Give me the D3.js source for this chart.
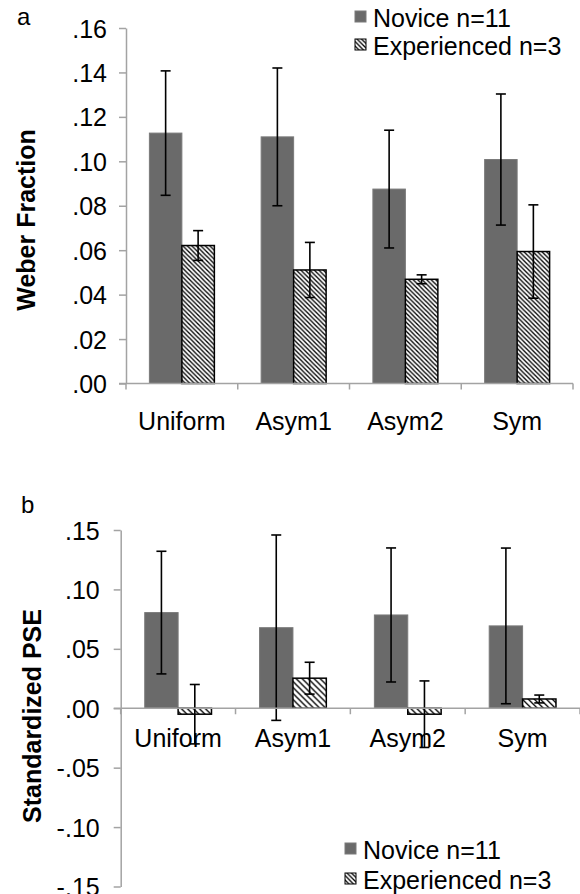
<!DOCTYPE html>
<html>
<head>
<meta charset="utf-8">
<script src="https://cdn.jsdelivr.net/npm/d3@7"></script>
<style>
  body { margin: 0; background: #fff; }
  svg { display: block; font-family: "Liberation Sans", Arial, Helvetica, sans-serif; }
</style>
</head>
<body>
<svg id="chart" width="580" height="894"></svg>
<script>
const categories = ["Uniform", "Asym1", "Asym2", "Sym"];
const series = ["Novice n=11", "Experienced n=3"];

// panel a: Weber fraction (mean, +/- error)
const weberNovice = [0.1127, 0.111, 0.0875, 0.1008];
const weberNoviceErr = [0.028, 0.031, 0.0265, 0.0295];
const weberExp = [0.0621, 0.0511, 0.0469, 0.0594];
const weberExpErr = [0.0067, 0.0124, 0.002, 0.021];
const weberTicks = [0, 0.02, 0.04, 0.06, 0.08, 0.10, 0.12, 0.14, 0.16];

// panel b: standardized PSE
const pseNovice = [0.0805, 0.0678, 0.0785, 0.0693];
const pseNoviceErr = [0.0516, 0.078, 0.0564, 0.0655];
const pseExp = [-0.005, 0.0253, -0.005, 0.0078];
const pseExpErr = [0.025, 0.0134, 0.028, 0.0033];
const pseTicks = [-0.15, -0.10, -0.05, 0, 0.05, 0.10, 0.15];

const svg = d3.select("#chart");
const axisColor = "#a3a3a3";
const noviceFill = "#6a6a6a";
const fontSize = 25;

const fmt = v => {
    const s = d3.format(".2f")(Math.abs(v)).replace(/^0/, "");
    return (v < 0 ? "-" : "") + s;
};

const defs = svg.append("defs");
function hatch(id, size) {
    const p = defs.append("pattern")
        .attr("id", id)
        .attr("patternUnits", "userSpaceOnUse")
        .attr("width", size).attr("height", size);
    p.append("rect").attr("width", size).attr("height", size).attr("fill", "#fff");
    p.append("path")
        .attr("d", `M0,0L${size},${size}M${-size/2},${size/2}L${size/2},${size*1.5}M${size/2},${-size/2}L${size*1.5},${size/2}`)
        .attr("stroke", "#000")
        .attr("stroke-width", 1.3);
}
hatch("hatchA", 4.5);
hatch("hatchB", 6);

function panel(opt) {
    const g = svg.append("g");

    const x0 = d3.scaleBand().domain(categories).range([opt.left, opt.right]).padding(0);
    const x1 = d3.scaleBand().domain(series).range([0, x0.bandwidth()])
        .paddingInner(0).paddingOuter(0.72);
    const y = d3.scaleLinear().domain(opt.domain).range([opt.bottom, opt.top]);

    // y axis
    g.append("g")
        .attr("transform", `translate(${opt.left},0)`)
        .call(d3.axisLeft(y).tickValues(opt.ticks).tickFormat(fmt)
            .tickSizeInner(7).tickSizeOuter(0).tickPadding(opt.labelPad))
        .call(a => a.selectAll(".domain, line").attr("stroke", axisColor).attr("stroke-width", 1.5))
        .call(a => a.selectAll("text").attr("font-size", fontSize).attr("fill", "#000")
            .attr("font-family", null).attr("dy", "0.36em"));

    const rows = categories.map((c, i) => ({
        cat: c,
        vals: [
            {s: series[0], v: opt.novice[i], e: opt.noviceErr[i]},
            {s: series[1], v: opt.exp[i], e: opt.expErr[i]}
        ]
    }));

    const grp = g.append("g").selectAll("g")
        .data(rows)
        .join("g")
        .attr("transform", d => `translate(${x0(d.cat)},0)`);

    grp.selectAll("rect")
        .data(d => d.vals)
        .join("rect")
        .attr("x", d => x1(d.s))
        .attr("width", x1.bandwidth())
        .attr("y", d => y(Math.max(0, d.v)))
        .attr("height", d => Math.abs(y(d.v) - y(0)))
        .attr("fill", d => d.s === series[0] ? noviceFill : `url(#${opt.hatch})`)
        .attr("stroke", d => d.s === series[0] ? "#7a7a7a" : "#000")
        .attr("stroke-width", d => d.s === series[0] ? 1 : 1.5);

    // x axis (at zero)
    const y0 = y(0);
    g.append("line")
        .attr("x1", opt.left - 7).attr("x2", opt.right)
        .attr("y1", y0).attr("y2", y0)
        .attr("stroke", axisColor).attr("stroke-width", 1.5);
    g.append("g").selectAll("line")
        .data(categories.map(c => x0(c)).concat([opt.right]))
        .join("line")
        .attr("x1", d => d).attr("x2", d => d)
        .attr("y1", y0).attr("y2", y0 + 6)
        .attr("stroke", axisColor).attr("stroke-width", 1.5);

    g.append("g").selectAll("text")
        .data(categories)
        .join("text")
        .attr("x", d => x0(d) + x0.bandwidth() / 2)
        .attr("y", y0 + opt.catOffset)
        .attr("text-anchor", "middle")
        .attr("font-size", fontSize)
        .text(d => d);

    // error bars
    const eb = grp.selectAll("g.err")
        .data(d => d.vals)
        .join("g")
        .attr("class", "err")
        .attr("stroke", "#000")
        .attr("stroke-width", 1.6);
    const cx = d => x1(d.s) + x1.bandwidth() / 2;
    eb.append("line")
        .attr("x1", cx).attr("x2", cx)
        .attr("y1", d => y(d.v + d.e)).attr("y2", d => y(d.v - d.e));
    eb.append("line")
        .attr("x1", d => cx(d) - 5).attr("x2", d => cx(d) + 5)
        .attr("y1", d => y(d.v + d.e)).attr("y2", d => y(d.v + d.e));
    eb.append("line")
        .attr("x1", d => cx(d) - 5).attr("x2", d => cx(d) + 5)
        .attr("y1", d => y(d.v - d.e)).attr("y2", d => y(d.v - d.e));

    // axis title
    g.append("text")
        .attr("transform", `translate(${opt.titleX},${opt.titleY}) rotate(-90)`)
        .attr("text-anchor", "middle")
        .attr("font-size", fontSize)
        .attr("font-weight", "bold")
        .text(opt.title);

    // panel letter
    g.append("text")
        .attr("x", opt.letterX).attr("y", opt.letterY)
        .attr("font-size", 24)
        .text(opt.letter);

    // legend
    const lg = g.append("g").selectAll("g")
        .data(series)
        .join("g")
        .attr("transform", (d, i) => `translate(${opt.legendX},${opt.legendY + i * opt.legendStep})`);
    lg.append("rect")
        .attr("x", 0).attr("y", -16)
        .attr("width", 11).attr("height", 11)
        .attr("fill", (d, i) => i === 0 ? noviceFill : "url(#hatchA)")
        .attr("stroke", (d, i) => i === 0 ? "#7a7a7a" : "#000")
        .attr("stroke-width", 1);
    lg.append("text")
        .attr("x", 18).attr("y", 0)
        .attr("font-size", fontSize)
        .text(d => d);
}

panel({
    left: 126, right: 573, top: 28, bottom: 383.5,
    domain: [0, 0.16], ticks: weberTicks,
    novice: weberNovice, noviceErr: weberNoviceErr,
    exp: weberExp, expErr: weberExpErr,
    hatch: "hatchA", labelPad: 12, catOffset: 46,
    title: "Weber Fraction", titleX: 35, titleY: 220,
    letter: "a", letterX: 17, letterY: 25,
    legendX: 355, legendY: 27, legendStep: 28
});

panel({
    left: 120.7, right: 580, top: 530, bottom: 886.5,
    domain: [-0.15, 0.15], ticks: pseTicks,
    novice: pseNovice, noviceErr: pseNoviceErr,
    exp: pseExp, expErr: pseExpErr,
    hatch: "hatchB", labelPad: 14, catOffset: 39,
    title: "Standardized PSE", titleX: 41, titleY: 716,
    letter: "b", letterX: 21, letterY: 513,
    legendX: 345, legendY: 859, legendStep: 30
});
</script>
</body>
</html>
